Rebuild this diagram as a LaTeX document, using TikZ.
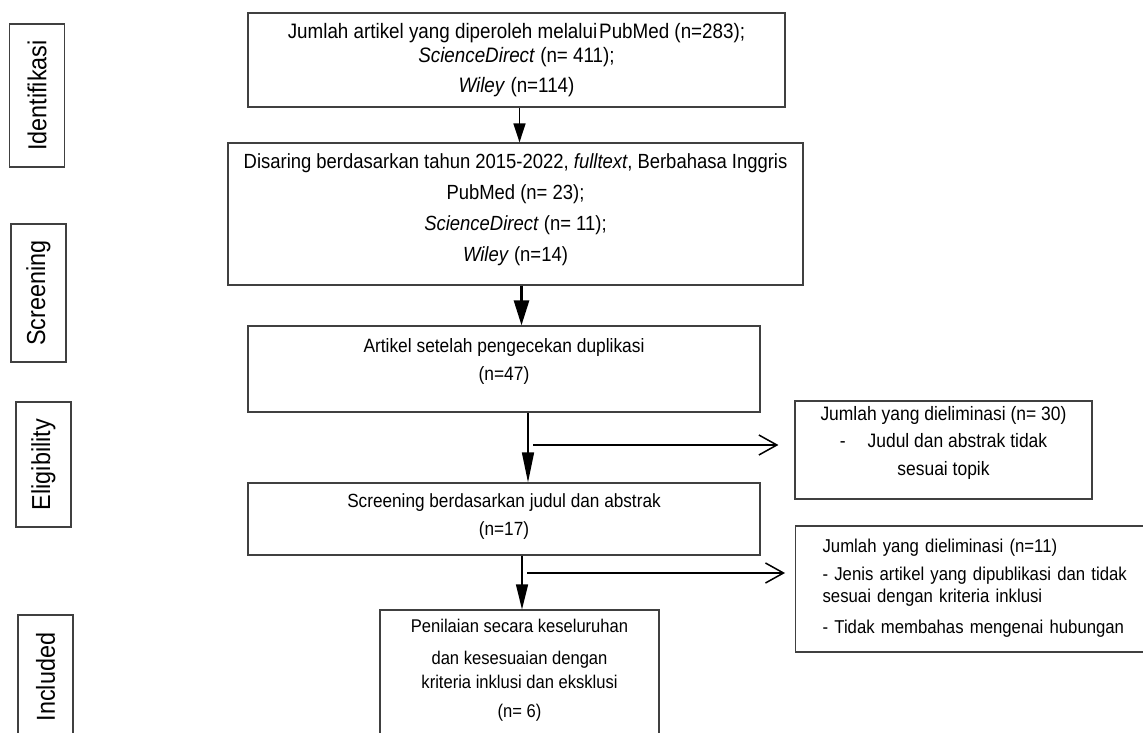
\documentclass[tikz,border=0pt]{standalone}
\usepackage{fontspec}
\setmainfont{Liberation Sans}[FakeStretch=0.9]
\newfontfamily\phasefont{Liberation Sans}[FakeStretch=0.9]
\usepackage{tikz}
\usetikzlibrary{arrows.meta, positioning}
\newcommand{\padbelow}[1]{\rule[-#1]{0pt}{0pt}}
\newcommand{\sized}[1]{\fontsize{#1}{24}\selectfont}

\begin{document}
\begin{tikzpicture}[
    x=1pt, y=-1pt,
    box/.style={
        draw=black!75,
        line width=1.2pt,
        align=center,
        inner sep=4pt,
        font=\sized{20}
    },
    phase/.style={
        draw=black!75,
        line width=1.2pt,
        rotate=90,
        minimum height=55pt,
        font=\phasefont\fontsize{26}{30}\selectfont
    },
    flow/.style={
        -{Triangle[length=19pt, width=12pt]},
        line width=1.5pt,
        black
    },
    side/.style={
        -{Straight Barb[length=18pt, width=20pt]},
        line width=1.5pt,
        black
    }
]

\useasboundingbox (0,0) rectangle (1143,733);
\clip (0,0) rectangle (1143,733);

% Phase labels (left column)
\node[phase, minimum width=143pt] (identifikasi) at (37,95.5) {Identifikasi};
\node[phase, minimum width=138pt] (screening) at (38.5,293) {Screening};
\node[phase, minimum width=125pt] (eligibility) at (43.5,464.5) {Eligibility};
\node[phase, minimum width=124pt] (included) at (45.5,677) {Included};

% Main flow boxes
\node[box, font=\sized{20.9}, minimum width=537pt, minimum height=94pt] (found) at (516.5,60)
    {Jumlah artikel yang diperoleh melalui\hspace{2pt}PubMed (n=283);\\
     \textit{ScienceDirect} (n= 411);\\[6pt]
     \textit{Wiley} (n=114)};
\node[box, font=\sized{20.5}, minimum width=575pt, minimum height=142pt] (filtered) at (515.5,214)
    {Disaring berdasarkan tahun 2015-2022, \textit{fulltext}, Berbahasa Inggris\\[7pt]
     PubMed (n= 23);\\[7pt]
     \textit{ScienceDirect} (n= 11);\\[7pt]
     \textit{Wiley} (n=14)\padbelow{13pt}};
\node[box, font=\sized{19.3}, minimum width=512pt, minimum height=86pt] (dedup) at (504,369)
    {Artikel setelah pengecekan duplikasi\\[4pt]
     (n=47)\padbelow{19pt}};
\node[box, font=\sized{19.1}, minimum width=512pt, minimum height=72pt] (titles) at (504,519)
    {Screening berdasarkan judul dan abstrak\\[4pt]
     (n=17)\padbelow{9pt}};
\node[box, font=\sized{18.4}, minimum width=279pt, minimum height=150pt] (final) at (519.5,685)
    {Penilaian secara keseluruhan\\[8pt]
     dan kesesuaian dengan\\
     kriteria inklusi dan eksklusi\\[5pt]
     (n= 6)\padbelow{33pt}};

% Eliminated boxes (right column)
\node[box, font=\sized{19.4}, minimum width=297pt, minimum height=98pt] (elim1) at (943.5,450)
    {Jumlah yang dieliminasi (n= 30)\\[3pt]
     -\hspace{22pt}Judul dan abstrak tidak\\[4pt]
     sesuai topik\padbelow{18pt}};
\node[box, font=\sized{18.6}, anchor=west, align=left, text width=330pt, inner xsep=27pt,
      minimum height=126pt] (elim2) at (795,589)
    {Jumlah yang dieliminasi (n=11)\\[4pt]
     - Jenis artikel yang dipublikasi dan tidak\\[-2pt]
     sesuai dengan kriteria inklusi\\[7pt]
     - Tidak membahas mengenai hubungan\padbelow{6pt}};

% Arrows down the flow
\draw[flow] ([xshift=3pt]found.south) -- ([xshift=3pt]found.south |- filtered.north);
\draw[flow, line width=2.7pt, -{Triangle[length=25pt, width=15pt]}]
    ([xshift=6pt]filtered.south) -- ([xshift=6pt]filtered.south |- dedup.north);
\draw[flow, -{Triangle[length=30pt, width=12pt]}]
    ([xshift=24pt]dedup.south) -- ([xshift=24pt]dedup.south |- titles.north);
\draw[flow, -{Triangle[length=25pt, width=12pt]}]
    ([xshift=18pt]titles.south) -- ([xshift=18pt]titles.south |- final.north);

% Arrows to the eliminated boxes
\coordinate (cut1) at (533,445);
\coordinate (cut2) at (527,573);
\draw[side, shorten >=16pt] (cut1) -- (cut1 -| elim1.west);
\draw[side, shorten >=10pt] (cut2) -- (cut2 -| elim2.west);

\end{tikzpicture}
\end{document}
